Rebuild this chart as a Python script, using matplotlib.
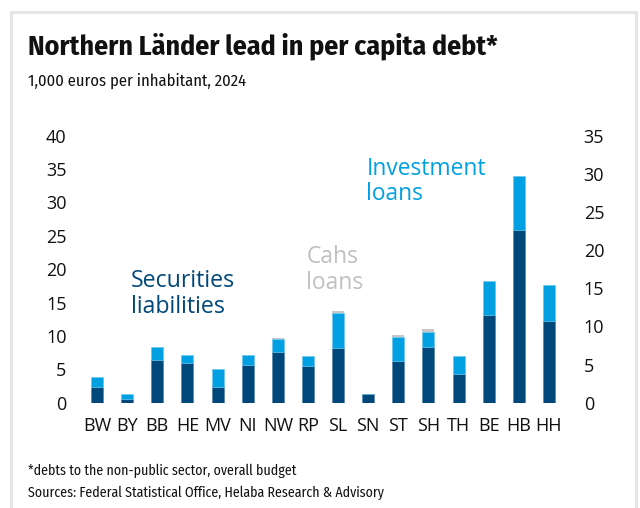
import matplotlib
matplotlib.use("Agg")
import matplotlib.pyplot as plt
from matplotlib import font_manager
from matplotlib.patches import Rectangle
import numpy as np

# Per capita debt of the German Länder, 1,000 euros per inhabitant, 2024
states = ["BW", "BY", "BB", "HE", "MV", "NI", "NW", "RP",
          "SL", "SN", "ST", "SH", "TH", "BE", "HB", "HH"]
securities = [2.4, 0.6, 6.45, 6.0, 2.4, 5.7, 7.55, 5.45,
              8.2, 1.35, 6.2, 8.3, 4.3, 13.15, 25.9, 12.3]
investment = [1.4, 0.75, 1.9, 1.15, 2.65, 1.4, 2.05, 1.55,
              5.25, 0.0, 3.7, 2.35, 2.75, 5.15, 8.1, 5.35]
cash = [0.0, 0.0, 0.0, 0.0, 0.0, 0.0, 0.15, 0.0,
        0.3, 0.0, 0.3, 0.4, 0.0, 0.0, 0.0, 0.0]
left_ticks = [0, 5, 10, 15, 20, 25, 30, 35, 40]
right_ticks = [0, 5, 10, 15, 20, 25, 30, 35]

DARK = "#00487a"
LIGHT = "#00a0e2"
GREY = "#c6c6c6"

available = {f.name for f in font_manager.fontManager.ttflist}


def pick(*cands):
    for c in cands:
        if c in available:
            return c
    return "DejaVu Sans"


NARROW = pick("Fira Sans Condensed", "PT Sans Narrow", "Open Sans Condensed", "Roboto Condensed")
BODY = pick("Open Sans", "Noto Sans", "Fira Sans")

W, H = 640, 508
fig = plt.figure(figsize=(W / 100, H / 100), dpi=100)
fig.patch.set_facecolor("white")

# light frame around the whole graphic
fig.patches.append(Rectangle((11 / W, -0.05), 625 / W, 1.05 - 12 / H,
                             transform=fig.transFigure, fill=False,
                             edgecolor="#e4e4e4", linewidth=2.0))

ax = fig.add_axes([79 / W, (H - 402.7) / H, 488 / W, 267 / H])
x = np.arange(len(states))
sec = np.array(securities)
inv = np.array(investment)
csh = np.array(cash)
bw = 0.4
ax.bar(x, sec, width=bw, color=DARK, edgecolor="#4d7fa6", linewidth=0.4)
ax.bar(x, inv, width=bw, bottom=sec, color=LIGHT, edgecolor="#66c4ee", linewidth=0.4)
ax.bar(x, csh, width=bw, bottom=sec + inv, color=GREY, linewidth=0)

ax.set_xlim(-0.6, 15.6)
ax.set_ylim(0, 40)
ax.set_xticks(x)
ax.set_xticklabels(states)
ax.set_yticks(left_ticks)
for s in ax.spines.values():
    s.set_visible(False)
ax.tick_params(axis="both", length=0, labelsize=13, colors="#111111")
ax.tick_params(axis="y", pad=9)
ax.tick_params(axis="x", pad=10)

ax2 = ax.twinx()
ax2.set_ylim(0, 35)
ax2.set_yticks(right_ticks)
for s in ax2.spines.values():
    s.set_visible(False)
ax2.tick_params(axis="y", length=0, labelsize=13, colors="#111111", pad=12)

for a in (ax, ax2):
    for lab in a.get_xticklabels() + a.get_yticklabels():
        lab.set_family(BODY)

ann = dict(family=BODY, va="center", ha="left")
ax.text(1.13, 18.2, "Securities", color=DARK, fontsize=16.7, **ann)
ax.text(1.13, 14.3, "liabilities", color=DARK, fontsize=16.7, **ann)
ax.text(6.94, 21.9, "Cahs", color="#c0c0c0", fontsize=16.5, **ann)
ax.text(6.94, 18.0, "loans", color="#c0c0c0", fontsize=16.5, **ann)
ax.text(8.94, 35.0, "Investment", color=LIGHT, fontsize=16.4, **ann)
ax.text(8.94, 31.2, "loans", color=LIGHT, fontsize=16.4, **ann)

fig.text(28 / W, 1 - 46 / H, "Northern Länder lead in per capita debt*",
         fontsize=20, fontweight="bold", family=NARROW,
         va="center", ha="left", color="#111111")
fig.text(28 / W, 1 - 81 / H, "1,000 euros per inhabitant, 2024",
         fontsize=11.9, family=NARROW,
         va="center", ha="left", color="#111111")
fig.text(28 / W, 1 - 471 / H, "*debts to the non-public sector, overall budget",
         fontsize=10, family=NARROW,
         va="center", ha="left", color="#111111")
fig.text(28 / W, 1 - 493 / H, "Sources: Federal Statistical Office, Helaba Research & Advisory",
         fontsize=10, family=NARROW,
         va="center", ha="left", color="#111111")

fig.savefig("out.png", dpi=100, facecolor="white")
